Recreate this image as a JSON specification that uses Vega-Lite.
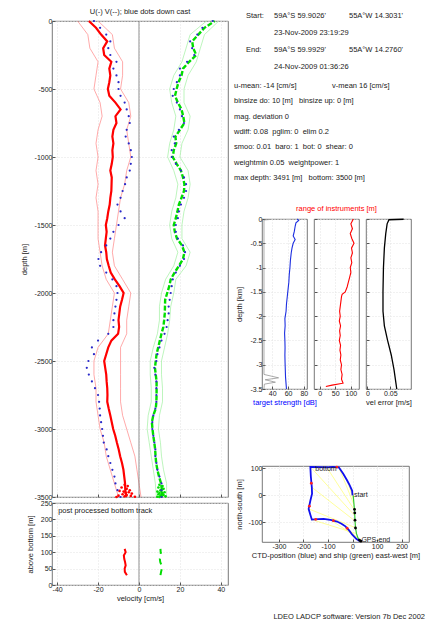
{
"$schema": "https://vega.github.io/schema/vega-lite/v6.json",
"background": "white",
"padding": {"left": 19, "top": 7, "right": 0, "bottom": 0},
"config": {
 "font": "Liberation Sans",
 "view": {"stroke": "#555", "strokeWidth": 0.8},
 "axis": {"domain": false, "labelFontSize": 7, "titleFontSize": 7.5, "titleFontWeight": "normal", "labelColor": "#222", "titleColor": "#222", "tickColor": "#555", "tickSize": -3, "labelPadding": 3, "titlePadding": 2, "gridColor": "#e2e2e2", "gridDash": [1, 2], "labelOverlap": false, "labelExpr": "'' + datum.value"},
 "title": {"fontSize": 7.5, "fontWeight": "normal", "color": "#222"}
},
"title": {"text": "LDEO LADCP software: Version 7b Dec 2002", "orient": "bottom", "anchor": "end", "offset": 11, "dx": -3},
"datasets": {
 "prof": [
  {"z":0,"u":-24.5,"v":37,"ud":-22,"vd":36},
  {"z":-50,"u":-21,"v":32,"ud":-19,"vd":31},
  {"z":-100,"u":-18.5,"v":29,"ud":-16,"vd":28.5},
  {"z":-150,"u":-15.5,"v":26,"ud":-14,"vd":25},
  {"z":-200,"u":-17.5,"v":26.5,"ud":-15,"vd":26},
  {"z":-250,"u":-17,"v":28,"ud":-14,"vd":27},
  {"z":-300,"u":-13.5,"v":24.5,"ud":-11,"vd":23.5},
  {"z":-350,"u":-14.5,"v":21.5,"ud":-12.5,"vd":20},
  {"z":-400,"u":-14,"v":20.8,"ud":-11,"vd":20},
  {"z":-450,"u":-14.5,"v":19.3,"ud":-10,"vd":18.5},
  {"z":-500,"u":-15.2,"v":18.4,"ud":-10,"vd":17},
  {"z":-550,"u":-14.5,"v":17.6,"ud":-9,"vd":16.5},
  {"z":-600,"u":-11.5,"v":19,"ud":-7,"vd":18.5},
  {"z":-650,"u":-9,"v":20.8,"ud":-6,"vd":20},
  {"z":-700,"u":-11.5,"v":21.6,"ud":-5,"vd":21},
  {"z":-750,"u":-11,"v":22.2,"ud":-4.5,"vd":22},
  {"z":-800,"u":-12.5,"v":20,"ud":-6,"vd":19.5},
  {"z":-850,"u":-13,"v":17.8,"ud":-6.5,"vd":17},
  {"z":-900,"u":-12.5,"v":18.2,"ud":-5,"vd":17.5},
  {"z":-950,"u":-13,"v":17,"ud":-4,"vd":16},
  {"z":-1000,"u":-12.8,"v":16.5,"ud":-3.5,"vd":16},
  {"z":-1050,"u":-13.3,"v":18.4,"ud":-4,"vd":18},
  {"z":-1100,"u":-14,"v":20.5,"ud":-4.5,"vd":20.5},
  {"z":-1150,"u":-13.3,"v":21.5,"ud":-6,"vd":22},
  {"z":-1200,"u":-13.4,"v":22.2,"ud":-6.8,"vd":23},
  {"z":-1250,"u":-13.5,"v":22,"ud":-8,"vd":23},
  {"z":-1300,"u":-14,"v":20.8,"ud":-9,"vd":22},
  {"z":-1350,"u":-14.3,"v":19.5,"ud":-10.5,"vd":20.5},
  {"z":-1400,"u":-15,"v":18.8,"ud":-9,"vd":19.5},
  {"z":-1450,"u":-15.5,"v":18,"ud":-7,"vd":19},
  {"z":-1500,"u":-16.2,"v":17,"ud":-10,"vd":18},
  {"z":-1550,"u":-15.8,"v":17.5,"ud":-12.5,"vd":18},
  {"z":-1600,"u":-16.2,"v":18.6,"ud":-14,"vd":19},
  {"z":-1650,"u":-16.6,"v":21,"ud":-16,"vd":21.5},
  {"z":-1700,"u":-16,"v":22.2,"ud":-18.5,"vd":22.5},
  {"z":-1750,"u":-15.7,"v":21.5,"ud":-19.8,"vd":22},
  {"z":-1800,"u":-14.8,"v":19.5,"ud":-19,"vd":20},
  {"z":-1850,"u":-13.8,"v":17.4,"ud":-16,"vd":18},
  {"z":-1900,"u":-11.8,"v":15.5,"ud":-13,"vd":16.5},
  {"z":-1950,"u":-9.5,"v":14.8,"ud":-11,"vd":16},
  {"z":-2000,"u":-7.5,"v":13.8,"ud":-10.5,"vd":15.5},
  {"z":-2050,"u":-8.3,"v":12.8,"ud":-11,"vd":15},
  {"z":-2100,"u":-9.2,"v":12.7,"ud":-11.5,"vd":14.5},
  {"z":-2150,"u":-9.6,"v":12.6,"ud":-12,"vd":14.5},
  {"z":-2200,"u":-10,"v":12.3,"ud":-12.5,"vd":14},
  {"z":-2250,"u":-9.7,"v":11.9,"ud":-12.5,"vd":13.5},
  {"z":-2300,"u":-10.2,"v":11,"ud":-15,"vd":12.5},
  {"z":-2350,"u":-13.5,"v":10.2,"ud":-20,"vd":11},
  {"z":-2400,"u":-15,"v":9.4,"ud":-23,"vd":10},
  {"z":-2450,"u":-16,"v":8.6,"ud":-22,"vd":9},
  {"z":-2500,"u":-17,"v":8.2,"ud":-24.7,"vd":8.5},
  {"z":-2550,"u":-16.5,"v":7.8,"ud":-25.5,"vd":7.5},
  {"z":-2600,"u":-16,"v":8.2,"ud":-24.5,"vd":8},
  {"z":-2650,"u":-15.8,"v":8.6,"ud":-23,"vd":8.5},
  {"z":-2700,"u":-15.5,"v":8.6,"ud":-21.5,"vd":8.5},
  {"z":-2750,"u":-15.4,"v":8.6,"ud":-20,"vd":8.5},
  {"z":-2800,"u":-15.5,"v":8.5,"ud":-19.5,"vd":8.5},
  {"z":-2850,"u":-14.8,"v":8.2,"ud":-19.2,"vd":8},
  {"z":-2900,"u":-14,"v":7,"ud":-19,"vd":7},
  {"z":-2950,"u":-13.3,"v":6.3,"ud":-18.5,"vd":6.5},
  {"z":-3000,"u":-12.6,"v":6.6,"ud":-18,"vd":6.5},
  {"z":-3050,"u":-11.6,"v":7,"ud":-17.6,"vd":7},
  {"z":-3100,"u":-10.8,"v":7.5,"ud":-17.2,"vd":7.5},
  {"z":-3150,"u":-9.9,"v":7.9,"ud":-15.8,"vd":8},
  {"z":-3200,"u":-9.2,"v":8.1,"ud":-15,"vd":8},
  {"z":-3250,"u":-8.3,"v":8.4,"ud":-14,"vd":8.5},
  {"z":-3300,"u":-7.6,"v":9,"ud":-13,"vd":9},
  {"z":-3350,"u":-7.2,"v":9.8,"ud":-12,"vd":10},
  {"z":-3400,"u":-6.8,"v":10.8,"ud":-11.5,"vd":11},
  {"z":-3450,"u":-6.7,"v":11.2,"ud":-10.5,"vd":11},
  {"z":-3500,"u":-6.2,"v":11,"ud":-9,"vd":11}
 ],
 "env": [
  {"z":0,"ulo":-30,"uhi":-20,"vlo":33,"vhi":39},
  {"z":-100,"ulo":-25,"uhi":-13,"vlo":25,"vhi":32},
  {"z":-200,"ulo":-24,"uhi":-12,"vlo":23,"vhi":30},
  {"z":-300,"ulo":-20,"uhi":-8,"vlo":21,"vhi":28},
  {"z":-400,"ulo":-21,"uhi":-8,"vlo":17,"vhi":24},
  {"z":-500,"ulo":-22,"uhi":-9,"vlo":15,"vhi":22},
  {"z":-600,"ulo":-19,"uhi":-5,"vlo":16,"vhi":22},
  {"z":-700,"ulo":-18,"uhi":-4,"vlo":18,"vhi":25},
  {"z":-800,"ulo":-20,"uhi":-6,"vlo":17,"vhi":24},
  {"z":-900,"ulo":-21,"uhi":-5,"vlo":15,"vhi":21},
  {"z":-1000,"ulo":-20,"uhi":-4,"vlo":14,"vhi":20},
  {"z":-1100,"ulo":-21,"uhi":-6,"vlo":17,"vhi":24},
  {"z":-1200,"ulo":-20,"uhi":-7,"vlo":19,"vhi":25},
  {"z":-1300,"ulo":-21,"uhi":-9,"vlo":18,"vhi":24},
  {"z":-1400,"ulo":-20,"uhi":-10,"vlo":16,"vhi":22},
  {"z":-1500,"ulo":-20,"uhi":-11,"vlo":15,"vhi":21},
  {"z":-1600,"ulo":-20,"uhi":-12,"vlo":16,"vhi":21},
  {"z":-1700,"ulo":-19,"uhi":-13,"vlo":19,"vhi":25},
  {"z":-1800,"ulo":-18,"uhi":-12,"vlo":17,"vhi":23},
  {"z":-1900,"ulo":-16,"uhi":-8,"vlo":13,"vhi":18},
  {"z":-2000,"ulo":-12,"uhi":-4,"vlo":11,"vhi":17},
  {"z":-2100,"ulo":-13,"uhi":-5,"vlo":10,"vhi":15.5},
  {"z":-2200,"ulo":-14,"uhi":-6,"vlo":10,"vhi":15},
  {"z":-2300,"ulo":-15,"uhi":-6,"vlo":9,"vhi":14},
  {"z":-2400,"ulo":-20,"uhi":-9,"vlo":7,"vhi":12.5},
  {"z":-2500,"ulo":-22,"uhi":-9,"vlo":5.5,"vhi":11},
  {"z":-2600,"ulo":-22,"uhi":-9,"vlo":5.5,"vhi":11},
  {"z":-2700,"ulo":-21,"uhi":-9,"vlo":6,"vhi":11.5},
  {"z":-2800,"ulo":-21,"uhi":-9,"vlo":6,"vhi":11.5},
  {"z":-2900,"ulo":-20,"uhi":-8,"vlo":4.5,"vhi":10},
  {"z":-3000,"ulo":-19,"uhi":-6,"vlo":4,"vhi":9.5},
  {"z":-3100,"ulo":-17,"uhi":-4,"vlo":5,"vhi":10.5},
  {"z":-3200,"ulo":-16,"uhi":-2,"vlo":6,"vhi":11},
  {"z":-3300,"ulo":-14,"uhi":-1,"vlo":7,"vhi":12},
  {"z":-3400,"ulo":-12,"uhi":0,"vlo":8,"vhi":13.5},
  {"z":-3500,"ulo":-10,"uhi":1,"vlo":8.5,"vhi":13.5}
 ],
 "blob": [
  {"z":-3410,"bu":-7,"bv":10},{"z":-3420,"bu":-5.5,"bv":11.5},{"z":-3430,"bu":-8.5,"bv":9.5},
  {"z":-3440,"bu":-6,"bv":12},{"z":-3450,"bu":-4.5,"bv":10.5},{"z":-3455,"bu":-9.5,"bv":11},
  {"z":-3460,"bu":-7.5,"bv":9},{"z":-3465,"bu":-5,"bv":12.5},{"z":-3470,"bu":-6.5,"bv":10},
  {"z":-3475,"bu":-3.5,"bv":11.5},{"z":-3480,"bu":-8,"bv":9.5},{"z":-3485,"bu":-6,"bv":12},
  {"z":-3490,"bu":-10,"bv":10.5},{"z":-3492,"bu":-4,"bv":11},{"z":-3495,"bu":-7,"bv":13},
  {"z":-3498,"bu":-2,"bv":9},{"z":-3500,"bu":-11,"bv":10}
 ],
 "bt": [
  {"h":110,"u":-7.0,"v":10.5},{"h":100,"u":-6.5,"v":10.6},{"h":90,"u":-7.4,"v":10.8},
  {"h":80,"u":-7.2,"v":10.2},{"h":70,"u":-6.8,"v":10.4},{"h":60,"u":-6.5,"v":11.0},
  {"h":50,"u":-7.0,"v":11.2},{"h":40,"u":-6.9,"v":10.8},{"h":30,"u":-5.9,"v":10.5}
 ],
 "txt": [
  {"line":1,"col":1,"text":"Start:"},
  {"line":1,"col":2,"text":"59A°S 59.9026'"},
  {"line":1,"col":5,"text":"55A°W 14.3031'"},
  {"line":2,"col":2,"text":"23-Nov-2009 23:19:29"},
  {"line":3,"col":1,"text":"End:"},
  {"line":3,"col":2,"text":"59A°S 59.9929'"},
  {"line":3,"col":5,"text":"55A°W 14.2760'"},
  {"line":4,"col":2,"text":"24-Nov-2009 01:36:26"},
  {"line":5,"col":0,"text":"u-mean: -14 [cm/s]"},
  {"line":5,"col":4,"text":"v-mean  16 [cm/s]"},
  {"line":6,"col":0,"text":"binsize do: 10 [m]"},
  {"line":6,"col":3,"text":"binsize up:  0 [m]"},
  {"line":7,"col":0,"text":"mag. deviation 0"},
  {"line":8,"col":0,"text":"wdiff: 0.08 \u00a0pglim: 0 \u00a0elim 0.2"},
  {"line":9,"col":0,"text":"smoo: 0.01 \u00a0baro: 1 \u00a0bot: 0 \u00a0shear: 0"},
  {"line":10,"col":0,"text":"weightmin 0.05 \u00a0weightpower: 1"},
  {"line":11,"col":0,"text":"max depth: 3491 [m] \u00a0 bottom: 3500 [m]"}
 ],
 "ts": [
  {"zk":0,"ts":71.6},{"zk":-0.03,"ts":73.5},{"zk":-0.08,"ts":70},{"zk":-0.15,"ts":69},
  {"zk":-0.25,"ts":68},{"zk":-0.35,"ts":66.5},{"zk":-0.42,"ts":69},{"zk":-0.5,"ts":66.5},
  {"zk":-0.6,"ts":65},{"zk":-0.7,"ts":64},{"zk":-0.85,"ts":63},{"zk":-1.0,"ts":62.4},
  {"zk":-1.15,"ts":61.5},{"zk":-1.3,"ts":61},{"zk":-1.45,"ts":60},{"zk":-1.6,"ts":59},
  {"zk":-1.75,"ts":58},{"zk":-1.9,"ts":57.5},{"zk":-2.05,"ts":56},{"zk":-2.2,"ts":56.3},
  {"zk":-2.35,"ts":55.6},{"zk":-2.5,"ts":56},{"zk":-2.65,"ts":56.2},{"zk":-2.8,"ts":56},
  {"zk":-2.95,"ts":56.2},{"zk":-3.1,"ts":56.5},{"zk":-3.25,"ts":56.8},{"zk":-3.4,"ts":57.5},
  {"zk":-3.5,"ts":58}
 ],
 "gray": [
  {"i":1,"zk":-0.01,"g":37},{"i":2,"zk":-0.02,"g":29.5},{"i":3,"zk":-3.2,"g":29.5},
  {"i":4,"zk":-3.27,"g":48},{"i":5,"zk":-3.31,"g":31},{"i":6,"zk":-3.36,"g":44},
  {"i":7,"zk":-3.4,"g":30},{"i":8,"zk":-3.5,"g":29.5}
 ],
 "rng": [
  {"zk":0,"r":108},{"zk":-0.1,"r":100},{"zk":-0.2,"r":105},{"zk":-0.3,"r":98},
  {"zk":-0.4,"r":103},{"zk":-0.5,"r":110},{"zk":-0.6,"r":102},{"zk":-0.7,"r":105},
  {"zk":-0.8,"r":100},{"zk":-0.9,"r":103},{"zk":-1.0,"r":98},{"zk":-1.1,"r":100},
  {"zk":-1.2,"r":96},{"zk":-1.3,"r":92},{"zk":-1.4,"r":88},{"zk":-1.5,"r":82},
  {"zk":-1.55,"r":72},{"zk":-1.6,"r":70},{"zk":-1.7,"r":68},{"zk":-1.8,"r":66},
  {"zk":-1.9,"r":64},{"zk":-2.0,"r":66},{"zk":-2.1,"r":63},{"zk":-2.2,"r":67},
  {"zk":-2.3,"r":64},{"zk":-2.4,"r":66},{"zk":-2.5,"r":63},{"zk":-2.6,"r":67},
  {"zk":-2.7,"r":65},{"zk":-2.8,"r":68},{"zk":-2.9,"r":66},{"zk":-3.0,"r":70},
  {"zk":-3.1,"r":68},{"zk":-3.2,"r":72},{"zk":-3.3,"r":70},{"zk":-3.38,"r":75},
  {"zk":-3.42,"r":40},{"zk":-3.45,"r":20}
 ],
 "err": [
  {"i":1,"zk":-0.005,"e":0.079},{"i":2,"zk":-0.015,"e":0.047},{"i":3,"zk":-0.1,"e":0.043},
  {"i":4,"zk":-0.3,"e":0.040},{"i":5,"zk":-0.6,"e":0.037},{"i":6,"zk":-1.0,"e":0.035},
  {"i":7,"zk":-1.5,"e":0.034},{"i":8,"zk":-1.9,"e":0.034},{"i":9,"zk":-2.2,"e":0.037},
  {"i":10,"zk":-2.5,"e":0.044},{"i":11,"zk":-2.8,"e":0.052},{"i":12,"zk":-3.1,"e":0.058},
  {"i":13,"zk":-3.5,"e":0.064}
 ],
 "ctd": [
  {"i":1,"ew":0,"ns":0},{"i":2,"ew":-2,"ns":18},{"i":3,"ew":-12,"ns":38},{"i":4,"ew":-22,"ns":55},
  {"i":5,"ew":-38,"ns":80},{"i":6,"ew":-56,"ns":104},{"i":7,"ew":-80,"ns":106},{"i":8,"ew":-105,"ns":104},
  {"i":9,"ew":-135,"ns":105},{"i":10,"ew":-172,"ns":106},{"i":11,"ew":-170,"ns":70},{"i":12,"ew":-166,"ns":30},
  {"i":13,"ew":-165,"ns":6},{"i":14,"ew":-172,"ns":-20},{"i":15,"ew":-179,"ns":-50},{"i":16,"ew":-172,"ns":-72},
  {"i":17,"ew":-166,"ns":-90},{"i":18,"ew":-140,"ns":-88},{"i":19,"ew":-118,"ns":-87},{"i":20,"ew":-90,"ns":-91},
  {"i":21,"ew":-63,"ns":-97},{"i":22,"ew":-45,"ns":-105},{"i":23,"ew":-29,"ns":-115},{"i":24,"ew":-14,"ns":-130},
  {"i":25,"ew":-2,"ns":-145},{"i":26,"ew":16,"ns":-162},{"i":27,"ew":30,"ns":-170}
 ],
 "ship": [
  {"i":1,"ew":3,"ns":0},{"i":2,"ew":4,"ns":-15},{"i":3,"ew":6,"ns":-35},{"i":4,"ew":8,"ns":-55},
  {"i":5,"ew":9,"ns":-75},{"i":6,"ew":10,"ns":-95},{"i":7,"ew":12,"ns":-120},{"i":8,"ew":16,"ns":-142},
  {"i":9,"ew":22,"ns":-158},{"i":10,"ew":30,"ns":-168}
 ],
 "fan": [
  {"ew":-2,"ns":18,"ew2":3,"ns2":0},{"ew":-22,"ns":55,"ew2":4,"ns2":-15},
  {"ew":-56,"ns":104,"ew2":6,"ns2":-35},{"ew":-105,"ns":104,"ew2":8,"ns2":-55},
  {"ew":-172,"ns":106,"ew2":9,"ns2":-75},{"ew":-166,"ns":30,"ew2":10,"ns2":-95},
  {"ew":-179,"ns":-50,"ew2":12,"ns2":-120},{"ew":-166,"ns":-90,"ew2":16,"ns2":-142},
  {"ew":-90,"ns":-91,"ew2":22,"ns2":-158},{"ew":-29,"ns":-115,"ew2":28,"ns2":-166}
 ],
 "redm": [
  {"ew":-64,"ns":105},{"ew":-168,"ns":45},{"ew":-176,"ns":-40},{"ew":-150,"ns":-89},{"ew":-78,"ns":-94},{"ew":-22,"ns":-122}
 ],
 "gps": [
  {"ew":8,"ns":-52},{"ew":9,"ns":-65},{"ew":10,"ns":-92},{"ew":12,"ns":-121},{"ew":28,"ns":-166},{"ew":34,"ns":-170}
 ],
 "lbl": [
  {"ew":6,"ns":0,"t":"start"},{"ew":-152,"ns":98,"t":"bottom"},{"ew":36,"ns":-167,"t":"GPS-end"}
 ]
},
"spacing": 5,
"hconcat": [
 {
  "vconcat": [
   {
    "width": 176, "height": 476,
    "title": {"text": "U(-) V(--); blue dots down cast", "offset": 1},
    "layer": [
     {"data": {"name": "env"}, "transform": [{"fold": ["ulo", "uhi"], "as": ["k", "val"]}],
      "mark": {"type": "line", "color": "#ff7070", "strokeWidth": 0.6},
      "encoding": {
       "x": {"field": "val", "type": "quantitative", "scale": {"domain": [-42.5, 43.5], "nice": false, "zero": false},
             "axis": {"values": [-40, -20, 0, 20, 40], "labels": false, "title": null, "grid": true}},
       "y": {"field": "z", "type": "quantitative", "scale": {"domain": [-3500, 0], "nice": false, "zero": false},
             "axis": {"values": [0, -500, -1000, -1500, -2000, -2500, -3000, -3500], "title": "depth [m]", "grid": true, "titlePadding": 6}},
       "detail": {"field": "k"},
       "order": {"field": "z", "type": "quantitative"}}},
     {"data": {"name": "env"}, "transform": [{"fold": ["vlo", "vhi"], "as": ["k", "val"]}],
      "mark": {"type": "line", "color": "#90ee90", "strokeWidth": 0.6},
      "encoding": {
       "x": {"field": "val", "type": "quantitative", "scale": {"domain": [-42.5, 43.5], "nice": false, "zero": false},
             "axis": {"values": [-40, -20, 0, 20, 40], "labels": false, "title": null, "grid": true}},
       "y": {"field": "z", "type": "quantitative", "scale": {"domain": [-3500, 0], "nice": false, "zero": false},
             "axis": {"values": [0, -500, -1000, -1500, -2000, -2500, -3000, -3500], "title": "depth [m]", "grid": true, "titlePadding": 6}},
       "detail": {"field": "k"},
       "order": {"field": "z", "type": "quantitative"}}},
     {"data": {"values": [{}]}, "mark": {"type": "rule", "color": "#777", "strokeWidth": 0.8},
      "encoding": {
       "x": {"datum": 0, "type": "quantitative", "scale": {"domain": [-42.5, 43.5], "nice": false, "zero": false},
             "axis": {"values": [-40, -20, 0, 20, 40], "labels": false, "title": null, "grid": true}}}},
     {"data": {"name": "prof"}, "mark": {"type": "line", "color": "#ff0000", "strokeWidth": 2.2},
      "encoding": {
       "x": {"field": "u", "type": "quantitative", "scale": {"domain": [-42.5, 43.5], "nice": false, "zero": false},
             "axis": {"values": [-40, -20, 0, 20, 40], "labels": false, "title": null, "grid": true}},
       "y": {"field": "z", "type": "quantitative", "scale": {"domain": [-3500, 0], "nice": false, "zero": false},
             "axis": {"values": [0, -500, -1000, -1500, -2000, -2500, -3000, -3500], "title": "depth [m]", "grid": true, "titlePadding": 6}},
       "order": {"field": "z", "type": "quantitative"}}},
     {"data": {"name": "prof"}, "mark": {"type": "line", "color": "#00dd00", "strokeWidth": 2.4, "strokeDash": [5, 2]},
      "encoding": {
       "x": {"field": "v", "type": "quantitative", "scale": {"domain": [-42.5, 43.5], "nice": false, "zero": false},
             "axis": {"values": [-40, -20, 0, 20, 40], "labels": false, "title": null, "grid": true}},
       "y": {"field": "z", "type": "quantitative", "scale": {"domain": [-3500, 0], "nice": false, "zero": false},
             "axis": {"values": [0, -500, -1000, -1500, -2000, -2500, -3000, -3500], "title": "depth [m]", "grid": true, "titlePadding": 6}},
       "order": {"field": "z", "type": "quantitative"}}},
     {"data": {"name": "blob"}, "mark": {"type": "point", "filled": true, "size": 7, "color": "#ff0000", "opacity": 1},
      "encoding": {
       "x": {"field": "bu", "type": "quantitative", "scale": {"domain": [-42.5, 43.5], "nice": false, "zero": false},
             "axis": {"values": [-40, -20, 0, 20, 40], "labels": false, "title": null, "grid": true}},
       "y": {"field": "z", "type": "quantitative", "scale": {"domain": [-3500, 0], "nice": false, "zero": false},
             "axis": {"values": [0, -500, -1000, -1500, -2000, -2500, -3000, -3500], "title": "depth [m]", "grid": true, "titlePadding": 6}}}},
     {"data": {"name": "blob"}, "mark": {"type": "point", "filled": true, "size": 7, "color": "#00dd00", "opacity": 1},
      "encoding": {
       "x": {"field": "bv", "type": "quantitative", "scale": {"domain": [-42.5, 43.5], "nice": false, "zero": false},
             "axis": {"values": [-40, -20, 0, 20, 40], "labels": false, "title": null, "grid": true}},
       "y": {"field": "z", "type": "quantitative", "scale": {"domain": [-3500, 0], "nice": false, "zero": false},
             "axis": {"values": [0, -500, -1000, -1500, -2000, -2500, -3000, -3500], "title": "depth [m]", "grid": true, "titlePadding": 6}}}},
     {"data": {"name": "prof"}, "mark": {"type": "point", "filled": true, "size": 5, "color": "#2828c8", "opacity": 1},
      "encoding": {
       "x": {"field": "ud", "type": "quantitative", "scale": {"domain": [-42.5, 43.5], "nice": false, "zero": false},
             "axis": {"values": [-40, -20, 0, 20, 40], "labels": false, "title": null, "grid": true}},
       "y": {"field": "z", "type": "quantitative", "scale": {"domain": [-3500, 0], "nice": false, "zero": false},
             "axis": {"values": [0, -500, -1000, -1500, -2000, -2500, -3000, -3500], "title": "depth [m]", "grid": true, "titlePadding": 6}}}},
     {"data": {"name": "prof"}, "mark": {"type": "point", "filled": true, "size": 5, "color": "#2828c8", "opacity": 1},
      "encoding": {
       "x": {"field": "vd", "type": "quantitative", "scale": {"domain": [-42.5, 43.5], "nice": false, "zero": false},
             "axis": {"values": [-40, -20, 0, 20, 40], "labels": false, "title": null, "grid": true}},
       "y": {"field": "z", "type": "quantitative", "scale": {"domain": [-3500, 0], "nice": false, "zero": false},
             "axis": {"values": [0, -500, -1000, -1500, -2000, -2500, -3000, -3500], "title": "depth [m]", "grid": true, "titlePadding": 6}}}}
    ]
   },
   {
    "width": 176, "height": 82,
    "layer": [
     {"data": {"values": [{}]}, "mark": {"type": "rule", "color": "#777", "strokeWidth": 0.8},
      "encoding": {
       "x": {"datum": 0, "type": "quantitative", "scale": {"domain": [-42.5, 43.5], "nice": false, "zero": false},
             "axis": {"values": [-40, -20, 0, 20, 40], "title": "velocity [cm/s]", "grid": true}}}},
     {"data": {"name": "bt"}, "mark": {"type": "line", "color": "#ff0000", "strokeWidth": 2},
      "encoding": {
       "x": {"field": "u", "type": "quantitative", "scale": {"domain": [-42.5, 43.5], "nice": false, "zero": false},
             "axis": {"values": [-40, -20, 0, 20, 40], "title": "velocity [cm/s]", "grid": true}},
       "y": {"field": "h", "type": "quantitative", "scale": {"domain": [0, 250], "nice": false, "zero": false},
             "axis": {"values": [0, 50, 100, 150, 200, 250], "title": "above bottom [m]", "grid": true, "titlePadding": 6}},
       "order": {"field": "h", "type": "quantitative"}}},
     {"data": {"name": "bt"}, "mark": {"type": "line", "color": "#00dd00", "strokeWidth": 2, "strokeDash": [6, 5]},
      "encoding": {
       "x": {"field": "v", "type": "quantitative", "scale": {"domain": [-42.5, 43.5], "nice": false, "zero": false},
             "axis": {"values": [-40, -20, 0, 20, 40], "title": "velocity [cm/s]", "grid": true}},
       "y": {"field": "h", "type": "quantitative", "scale": {"domain": [0, 250], "nice": false, "zero": false},
             "axis": {"values": [0, 50, 100, 150, 200, 250], "title": "above bottom [m]", "grid": true, "titlePadding": 6}},
       "order": {"field": "h", "type": "quantitative"}}},
     {"data": {"values": [{"t": "post processed bottom track"}]},
      "mark": {"type": "text", "align": "left", "baseline": "middle", "fontSize": 7.5, "color": "#222"},
      "encoding": {
       "x": {"datum": -39.5, "type": "quantitative", "scale": {"domain": [-42.5, 43.5], "nice": false, "zero": false},
             "axis": {"values": [-40, -20, 0, 20, 40], "title": "velocity [cm/s]", "grid": true}},
       "y": {"datum": 226, "type": "quantitative", "scale": {"domain": [0, 250], "nice": false, "zero": false},
             "axis": {"values": [0, 50, 100, 150, 200, 250], "title": "above bottom [m]", "grid": true, "titlePadding": 6}},
       "text": {"field": "t"}}}
    ]
   }
  ],
  "spacing": 6,
  "bounds": "flush"
 },
 {
  "concat": [
   {
    "concat": [
     {
      "width": 166, "height": 171,
      "view": {"stroke": null},
      "data": {"name": "txt"},
      "mark": {"type": "text", "align": "left", "baseline": "middle", "fontSize": 7.5, "color": "#222"},
      "encoding": {
       "x": {"field": "col", "type": "quantitative", "scale": {"domain": [0, 1, 2, 3, 4, 5], "range": [-28, -16, 12, 37, 70, 87], "nice": false, "zero": false}, "axis": null},
       "y": {"field": "line", "type": "quantitative", "scale": {"domain": [1, 4, 5, 11], "range": [-5.5, 46, 65, 157], "nice": false, "zero": false}, "axis": null},
       "text": {"field": "text"}
      }
     },
     {
      "hconcat": [
       {
        "width": 45, "height": 170,
        "layer": [
         {"data": {"name": "gray"}, "mark": {"type": "line", "color": "#888", "strokeWidth": 0.7},
          "encoding": {
           "x": {"field": "g", "type": "quantitative", "scale": {"domain": [27, 84], "nice": false, "zero": false},
                 "axis": {"values": [40, 60, 80], "title": "target strength [dB]", "titleColor": "#0000ff"}},
           "y": {"field": "zk", "type": "quantitative", "scale": {"domain": [-3.5, 0], "nice": false, "zero": false},
                 "axis": {"values": [0, -0.5, -1, -1.5, -2, -2.5, -3, -3.5], "title": "depth [km]", "titlePadding": 6}},
           "order": {"field": "i", "type": "quantitative"}}},
         {"data": {"name": "ts"}, "mark": {"type": "line", "color": "#1c2ee0", "strokeWidth": 1.1},
          "encoding": {
           "x": {"field": "ts", "type": "quantitative", "scale": {"domain": [27, 84], "nice": false, "zero": false},
                 "axis": {"values": [40, 60, 80], "title": "target strength [dB]", "titleColor": "#0000ff"}},
           "y": {"field": "zk", "type": "quantitative", "scale": {"domain": [-3.5, 0], "nice": false, "zero": false},
                 "axis": {"values": [0, -0.5, -1, -1.5, -2, -2.5, -3, -3.5], "title": "depth [km]", "titlePadding": 6}},
           "order": {"field": "zk", "type": "quantitative"}}}
        ]
       },
       {
        "width": 45, "height": 170,
        "title": {"text": "range of instruments [m]", "color": "#ff0000", "offset": 4},
        "data": {"name": "rng"},
        "mark": {"type": "line", "color": "#ff0000", "strokeWidth": 1.1},
        "encoding": {
         "x": {"field": "r", "type": "quantitative", "scale": {"domain": [-18, 126], "nice": false, "zero": false},
               "axis": {"values": [0, 50, 100], "title": null}},
         "y": {"field": "zk", "type": "quantitative", "scale": {"domain": [-3.5, 0], "nice": false, "zero": false},
               "axis": {"values": [0, -0.5, -1, -1.5, -2, -2.5, -3, -3.5], "labels": false, "title": null}},
         "order": {"field": "zk", "type": "quantitative"}}
       },
       {
        "width": 45, "height": 170,
        "data": {"name": "err"},
        "mark": {"type": "line", "color": "#000000", "strokeWidth": 1.3},
        "encoding": {
         "x": {"field": "e", "type": "quantitative", "scale": {"domain": [-0.003, 0.095], "nice": false, "zero": false},
               "axis": {"values": [0, 0.05], "title": "vel error [m/s]"}},
         "y": {"field": "zk", "type": "quantitative", "scale": {"domain": [-3.5, 0], "nice": false, "zero": false},
               "axis": {"values": [0, -0.5, -1, -1.5, -2, -2.5, -3, -3.5], "labels": false, "title": null}},
         "order": {"field": "i", "type": "quantitative"}}
       }
      ],
      "spacing": 7,
      "bounds": "flush"
     }
    ],
    "columns": 1,
    "align": "none",
    "spacing": 12
   },
   {
    "width": 147, "height": 76,
    "layer": [
     {"data": {"name": "fan"}, "mark": {"type": "rule", "color": "#ffff70", "strokeWidth": 0.7},
      "encoding": {
       "x": {"field": "ew", "type": "quantitative", "scale": {"domain": [-369, 230], "nice": false, "zero": false},
             "axis": {"values": [-300, -200, -100, 0, 100, 200], "title": "CTD-position (blue) and ship (green) east-west [m]", "grid": true}},
       "y": {"field": "ns", "type": "quantitative", "scale": {"domain": [-173, 109], "nice": false, "zero": false},
             "axis": {"values": [-100, 0, 100], "title": "north-south [m]", "grid": true, "titlePadding": 4.5}},
       "x2": {"field": "ew2"}, "y2": {"field": "ns2"}}},
     {"data": {"name": "ship"}, "mark": {"type": "line", "color": "#33cc33", "strokeWidth": 1.2},
      "encoding": {
       "x": {"field": "ew", "type": "quantitative", "scale": {"domain": [-369, 230], "nice": false, "zero": false},
             "axis": {"values": [-300, -200, -100, 0, 100, 200], "title": "CTD-position (blue) and ship (green) east-west [m]", "grid": true}},
       "y": {"field": "ns", "type": "quantitative", "scale": {"domain": [-173, 109], "nice": false, "zero": false},
             "axis": {"values": [-100, 0, 100], "title": "north-south [m]", "grid": true, "titlePadding": 4.5}},
       "order": {"field": "i", "type": "quantitative"}}},
     {"data": {"name": "ctd"}, "mark": {"type": "line", "color": "#1010ee", "strokeWidth": 1.8},
      "encoding": {
       "x": {"field": "ew", "type": "quantitative", "scale": {"domain": [-369, 230], "nice": false, "zero": false},
             "axis": {"values": [-300, -200, -100, 0, 100, 200], "title": "CTD-position (blue) and ship (green) east-west [m]", "grid": true}},
       "y": {"field": "ns", "type": "quantitative", "scale": {"domain": [-173, 109], "nice": false, "zero": false},
             "axis": {"values": [-100, 0, 100], "title": "north-south [m]", "grid": true, "titlePadding": 4.5}},
       "order": {"field": "i", "type": "quantitative"}}},
     {"data": {"name": "redm"}, "mark": {"type": "point", "filled": true, "size": 8, "color": "#ff2020", "opacity": 1},
      "encoding": {
       "x": {"field": "ew", "type": "quantitative", "scale": {"domain": [-369, 230], "nice": false, "zero": false},
             "axis": {"values": [-300, -200, -100, 0, 100, 200], "title": "CTD-position (blue) and ship (green) east-west [m]", "grid": true}},
       "y": {"field": "ns", "type": "quantitative", "scale": {"domain": [-173, 109], "nice": false, "zero": false},
             "axis": {"values": [-100, 0, 100], "title": "north-south [m]", "grid": true, "titlePadding": 4.5}}}},
     {"data": {"name": "gps"}, "mark": {"type": "point", "filled": true, "size": 8, "color": "#000000", "opacity": 1},
      "encoding": {
       "x": {"field": "ew", "type": "quantitative", "scale": {"domain": [-369, 230], "nice": false, "zero": false},
             "axis": {"values": [-300, -200, -100, 0, 100, 200], "title": "CTD-position (blue) and ship (green) east-west [m]", "grid": true}},
       "y": {"field": "ns", "type": "quantitative", "scale": {"domain": [-173, 109], "nice": false, "zero": false},
             "axis": {"values": [-100, 0, 100], "title": "north-south [m]", "grid": true, "titlePadding": 4.5}}}},
     {"data": {"name": "lbl"}, "mark": {"type": "text", "align": "left", "baseline": "middle", "fontSize": 7, "color": "#222"},
      "encoding": {
       "x": {"field": "ew", "type": "quantitative", "scale": {"domain": [-369, 230], "nice": false, "zero": false},
             "axis": {"values": [-300, -200, -100, 0, 100, 200], "title": "CTD-position (blue) and ship (green) east-west [m]", "grid": true}},
       "y": {"field": "ns", "type": "quantitative", "scale": {"domain": [-173, 109], "nice": false, "zero": false},
             "axis": {"values": [-100, 0, 100], "title": "north-south [m]", "grid": true, "titlePadding": 4.5}},
       "text": {"field": "t"}}}
    ]
   }
  ],
  "columns": 1,
  "align": "none",
  "spacing": 56
 }
]
}
